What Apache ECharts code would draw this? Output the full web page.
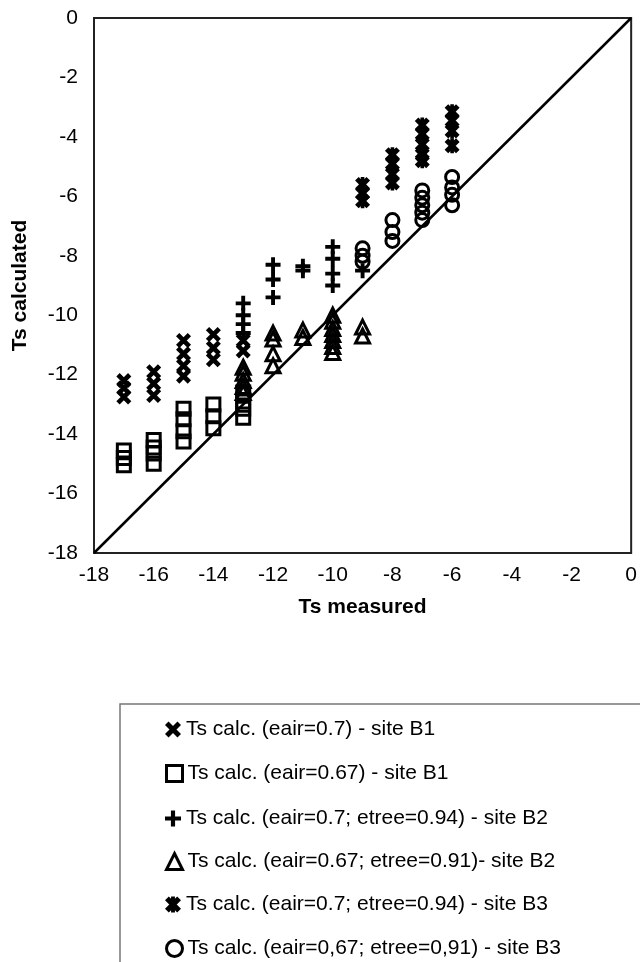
<!DOCTYPE html>
<html>
<head>
<meta charset="utf-8">
<script src="https://cdn.jsdelivr.net/npm/echarts@6/dist/echarts.min.js"></script>
<style>html,body{margin:0;padding:0;background:#fff}#c{width:640px;height:962px}</style>
</head>
<body>
<div id="c"></div>
<script>
// ---- data (Ts measured, Ts calculated) ----
const seriesNames = [
  'Ts calc. (eair=0.7) - site B1',
  'Ts calc. (eair=0.67) - site B1',
  'Ts calc. (eair=0.7; etree=0.94) - site B2',
  'Ts calc. (eair=0.67; etree=0.91)- site B2',
  'Ts calc. (eair=0.7; etree=0.94) - site B3',
  'Ts calc. (eair=0,67; etree=0,91) - site B3'
];
const b1aX = [-17,-17,-17,-16,-16,-16,-15,-15,-15,-15,-14,-14,-14,-13,-13];
const b1aY = [-12.2,-12.45,-12.75,-11.9,-12.3,-12.7,-10.85,-11.3,-11.7,-12.05,-10.65,-11.1,-11.5,-10.85,-11.2];
const b1bX = [-17,-17,-17,-16,-16,-16,-16,-15,-15,-15,-15,-14,-14,-14,-13,-13,-13,-13];
const b1bY = [-14.55,-14.8,-15.05,-14.2,-14.45,-14.65,-15.0,-13.15,-13.5,-13.9,-14.25,-13.0,-13.4,-13.8,-12.6,-12.9,-13.15,-13.45];
const b2aX = [-13,-13,-13,-13,-12,-12,-12,-11,-11,-10,-10,-10,-10,-9];
const b2aY = [-9.6,-10.0,-10.3,-10.6,-8.3,-8.8,-9.4,-8.35,-8.5,-7.7,-8.1,-8.6,-9.0,-8.5];
const b2bX = [-13,-13,-13,-13,-13,-12,-12,-12,-12,-11,-11,-10,-10,-10,-10,-10,-10,-10,-9,-9];
const b2bY = [-11.75,-11.95,-12.2,-12.4,-12.6,-10.6,-10.8,-11.3,-11.7,-10.5,-10.75,-10.0,-10.2,-10.45,-10.65,-10.85,-11.05,-11.25,-10.4,-10.7];
const b3aX = [-9,-9,-9,-8,-8,-8,-8,-7,-7,-7,-7,-7,-6,-6,-6,-6];
const b3aY = [-5.6,-5.9,-6.15,-4.6,-4.9,-5.25,-5.55,-3.6,-3.9,-4.25,-4.6,-4.8,-3.15,-3.45,-3.8,-4.3];
const b3bX = [-9,-9,-9,-8,-8,-8,-7,-7,-7,-7,-7,-6,-6,-6,-6];
const b3bY = [-7.75,-8.0,-8.2,-6.8,-7.2,-7.5,-5.8,-6.05,-6.3,-6.55,-6.8,-5.35,-5.7,-5.95,-6.3];
const lineX = [-18, 0];
const lineY = [-18, 0];
const axisTicks = [-18,-16,-14,-12,-10,-8,-6,-4,-2,0];

const pairs = (xs, ys) => xs.map((x, i) => [x, ys[i]]);
const FONT = '"Liberation Sans", Arial, sans-serif';

const SYM_X = 'path://M0,2.2 L2.2,0 L10,7.8 L7.8,10 Z M7.8,0 L10,2.2 L2.2,10 L0,7.8 Z';
const SYM_PLUS = 'path://M3.7,0 L6.3,0 L6.3,10 L3.7,10 Z M0,3.7 L10,3.7 L10,6.3 L0,6.3 Z';
const SYM_STAR = 'path://M0,2.4 L2.4,0 L10,7.6 L7.6,10 Z M7.6,0 L10,2.4 L2.4,10 L0,7.6 Z M3.8,0 L6.2,0 L6.2,10 L3.8,10 Z';

const solid = {color: '#000', opacity: 1};
const open = {color: 'rgba(255,255,255,0)', borderColor: '#000', borderWidth: 3, opacity: 1};

const legendRows = [714, 758, 803, 846, 889, 933];
const legends = seriesNames.map((n, i) => ({
  data: [{name: n, itemStyle: (i % 2 === 1) ? {borderWidth: 3, borderColor: '#000', opacity: 1} : {opacity: 1}}],
  orient: 'vertical', left: 160, top: legendRows[i],
  itemWidth: 16, itemHeight: 16, itemGap: 6,
  textStyle: {fontFamily: FONT, fontSize: 21, color: '#000'}
}));

const chart = echarts.init(document.getElementById('c'), null, {renderer: 'canvas'});
chart.setOption({
  animation: false,
  backgroundColor: '#fff',
  grid: {left: 94, right: 8, top: 18, bottom: 409, show: true, borderColor: '#222', borderWidth: 2, backgroundColor: 'transparent'},
  xAxis: {
    type: 'value', min: axisTicks[0], max: axisTicks[axisTicks.length-1], interval: 2,
    name: 'Ts measured', nameLocation: 'middle', nameGap: 44,
    nameTextStyle: {fontFamily: FONT, fontSize: 21, fontWeight: 'bold', color: '#000'},
    axisLine: {show: false}, axisTick: {show: false}, splitLine: {show: false},
    axisLabel: {fontFamily: FONT, fontSize: 21, color: '#000', margin: 12}
  },
  yAxis: {
    type: 'value', min: axisTicks[0], max: axisTicks[axisTicks.length-1], interval: 2,
    name: 'Ts calculated', nameLocation: 'middle', nameGap: 63, nameRotate: 90,
    nameTextStyle: {fontFamily: FONT, fontSize: 21, fontWeight: 'bold', color: '#000'},
    axisLine: {show: false}, axisTick: {show: false}, splitLine: {show: false},
    axisLabel: {fontFamily: FONT, fontSize: 21, color: '#000', margin: 16}
  },
  legend: legends,
  graphic: [{
    type: 'rect', shape: {x: 120, y: 704, width: 600, height: 400},
    style: {fill: 'none', stroke: '#777', lineWidth: 1.5}, silent: true, z: -1
  }],
  series: [
    {type: 'line', data: pairs(lineX, lineY), symbol: 'none', lineStyle: {color: '#000', width: 2.5}, z: 1, silent: true},
    {name: seriesNames[0], type: 'scatter', symbol: SYM_X, symbolSize: 15, itemStyle: solid, data: pairs(b1aX, b1aY), z: 3},
    {name: seriesNames[1], type: 'scatter', symbol: 'rect', symbolSize: 13, itemStyle: open, data: pairs(b1bX, b1bY), z: 3},
    {name: seriesNames[2], type: 'scatter', symbol: SYM_PLUS, symbolSize: 15, itemStyle: solid, data: pairs(b2aX, b2aY), z: 3},
    {name: seriesNames[3], type: 'scatter', symbol: 'triangle', symbolSize: 14, itemStyle: open, data: pairs(b2bX, b2bY), z: 3},
    {name: seriesNames[4], type: 'scatter', symbol: SYM_STAR, symbolSize: 15, itemStyle: solid, data: pairs(b3aX, b3aY), z: 3},
    {name: seriesNames[5], type: 'scatter', symbol: 'circle', symbolSize: 13, itemStyle: open, data: pairs(b3bX, b3bY), z: 3}
  ]
});
</script>
</body>
</html>
